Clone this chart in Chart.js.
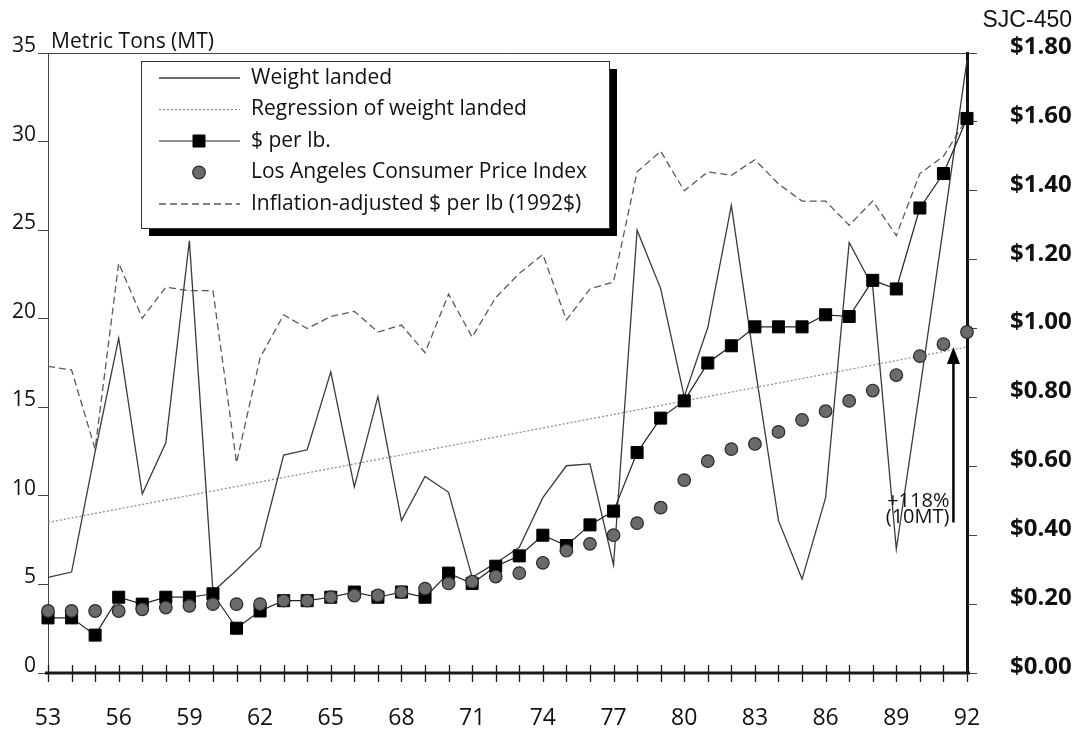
<!DOCTYPE html>
<html><head><meta charset="utf-8">
<script src="https://cdn.jsdelivr.net/npm/chart.js@4.4.1/dist/chart.umd.min.js"></script>
<style>html,body{margin:0;padding:0;background:#fff;}canvas{display:block;}</style>
</head><body>
<canvas id="c" width="1084" height="732"></canvas>
<script>
const years = ['53','54','55','56','57','58','59','60','61','62','63','64','65','66','67','68','69','70','71','72',
               '73','74','75','76','77','78','79','80','81','82','83','84','85','86','87','88','89','90','91','92'];
const weightLanded = [5.4,5.7,12.5,18.9,10.1,13.0,24.4,4.6,5.8,7.1,12.3,12.6,17.0,10.5,15.6,8.6,11.1,10.2,5.4,6.2,
                      7.1,9.9,11.7,11.8,6.1,25.0,21.7,15.6,19.5,26.4,17.3,8.6,5.3,9.9,24.3,21.8,7.0,16.0,25.2,34.6];
const regressionLine = [8.5,null,null,null,null,null,null,null,null,null,null,null,null,null,null,null,null,null,null,null,
                        null,null,null,null,null,null,null,null,null,null,null,null,null,null,null,null,null,null,null,18.4];
const dollarsPerLb = [0.16,0.16,0.11,0.22,0.20,0.22,0.22,0.23,0.13,0.18,0.21,0.21,0.22,0.235,0.22,0.235,0.22,0.29,0.26,0.31,
                      0.34,0.40,0.37,0.43,0.47,0.64,0.74,0.79,0.90,0.95,1.005,1.005,1.005,1.04,1.035,1.14,1.115,1.35,1.45,1.61];
const laCpi = [0.18,0.18,0.18,0.18,0.185,0.19,0.195,0.20,0.20,0.20,0.21,0.21,0.22,0.225,0.225,0.235,0.245,0.26,0.265,0.28,
               0.29,0.32,0.355,0.375,0.40,0.435,0.48,0.56,0.615,0.65,0.665,0.70,0.735,0.76,0.79,0.82,0.865,0.92,0.955,0.99];
const inflationAdjusted = [0.89,0.88,0.65,1.19,1.03,1.12,1.11,1.11,0.61,0.915,1.04,1.00,1.035,1.05,0.99,1.01,0.93,1.10,0.975,1.09,
                           1.16,1.215,1.025,1.115,1.135,1.455,1.515,1.40,1.455,1.445,1.49,1.42,1.37,1.37,1.30,1.37,1.27,1.45,1.50,1.61];
const seriesLabels = ['Weight landed','Regression of weight landed','$ per lb.','Los Angeles Consumer Price Index','Inflation-adjusted $ per lb (1992$)'];
const leftAxisTitle = 'Metric Tons (MT)';
const docId = 'SJC-450';
const annotationLines = ['+118%','(10MT)'];

const FONT = "'Open Sans', 'DejaVu Sans', sans-serif";

const decor = {
  id: 'decor',
  beforeDraw(chart) {
    const c = chart.ctx; c.save(); c.fillStyle = '#fff'; c.fillRect(0,0,chart.width,chart.height); c.restore();
  },
  afterDraw(chart) {
    const ctx = chart.ctx, a = chart.chartArea, xs = chart.scales.x, yL = chart.scales.yL;
    ctx.save();
    // top border
    ctx.strokeStyle = '#444'; ctx.lineWidth = 1;
    ctx.beginPath(); ctx.moveTo(a.left, a.top + 0.5); ctx.lineTo(a.right, a.top + 0.5); ctx.stroke();
    // x axis line
    ctx.strokeStyle = '#1a1a1a'; ctx.lineWidth = 3;
    ctx.beginPath(); ctx.moveTo(a.left - 3, a.bottom); ctx.lineTo(a.right + 3, a.bottom); ctx.stroke();
    // x tick marks (crossing)
    ctx.lineWidth = 1.3;
    for (let i = 0; i < years.length; i++) {
      const px = Math.round(xs.getPixelForValue(i)) + 0.5;
      ctx.beginPath(); ctx.moveTo(px, a.bottom - 8); ctx.lineTo(px, a.bottom + 9); ctx.stroke();
    }
    // titles
    ctx.fillStyle = '#111';
    ctx.font = '21px ' + FONT; ctx.textAlign = 'left'; ctx.textBaseline = 'middle';
    ctx.fillText(leftAxisTitle, a.left + 3, a.top - 11);
    ctx.font = "23px 'Liberation Sans', Arial, sans-serif"; ctx.textAlign = 'right';
    ctx.fillText(docId, 1072, 21);

    // legend
    const box = {l: 141, t: 61, r: 609, b: 228};
    ctx.fillStyle = '#000';
    ctx.fillRect(box.l + 8, box.t + 8, box.r - box.l, box.b - box.t);
    ctx.fillStyle = '#fff';
    ctx.fillRect(box.l, box.t, box.r - box.l, box.b - box.t);
    ctx.strokeStyle = '#333'; ctx.lineWidth = 1;
    ctx.strokeRect(box.l + 0.5, box.t + 0.5, box.r - box.l, box.b - box.t);
    const dsets = chart.data.datasets;
    const order = [0,1,2,3,4];
    order.forEach((k, row) => {
      const ds = dsets[k];
      const y = box.t + 17 + row * 31.5;
      const x0 = 159, x1 = 240, xm = 199;
      ctx.save();
      if (ds.showLine !== false) {
        ctx.strokeStyle = ds.borderColor; ctx.lineWidth = ds.borderWidth;
        ctx.setLineDash(ds.borderDash || []);
        ctx.beginPath(); ctx.moveTo(x0, y); ctx.lineTo(x1, y); ctx.stroke();
        ctx.setLineDash([]);
      }
      if (ds.pointRadius > 0) {
        ctx.fillStyle = ds.pointBackgroundColor; ctx.strokeStyle = ds.pointBorderColor; ctx.lineWidth = ds.pointBorderWidth;
        ctx.beginPath();
        if (ds.pointStyle === 'rect') {
          const s = Math.SQRT1_2 * ds.pointRadius;
          ctx.rect(xm - s, y - s, 2*s, 2*s);
        } else {
          ctx.arc(xm, y, ds.pointRadius, 0, Math.PI*2);
        }
        ctx.fill(); ctx.stroke();
      }
      ctx.restore();
      ctx.fillStyle = '#111'; ctx.font = '21px ' + FONT; ctx.textAlign = 'left'; ctx.textBaseline = 'middle';
      ctx.fillText(ds.label, 251, y);
    });

    // arrow annotation (+118%)
    const ax = xs.getPixelForValue(years.length - 2) + 10;
    const yTop = yL.getPixelForValue(regressionLine[regressionLine.length - 1]);
    const yBot = yL.getPixelForValue(regressionLine[0]);
    ctx.strokeStyle = '#000'; ctx.lineWidth = 2.5;
    ctx.beginPath(); ctx.moveTo(ax, yBot); ctx.lineTo(ax, yTop + 14); ctx.stroke();
    ctx.fillStyle = '#000';
    ctx.beginPath(); ctx.moveTo(ax, yTop); ctx.lineTo(ax - 6.5, yTop + 17); ctx.lineTo(ax + 6.5, yTop + 17); ctx.closePath(); ctx.fill();
    ctx.fillStyle = '#111'; ctx.font = '20px ' + FONT; ctx.textAlign = 'right'; ctx.textBaseline = 'middle';
    ctx.fillText(annotationLines[0], ax - 4, yBot - 21);
    ctx.fillText(annotationLines[1], ax - 4, yBot - 5);
    ctx.restore();
  }
};

new Chart(document.getElementById('c'), {
  type: 'line',
  data: {
    labels: years,
    datasets: [
      { label: seriesLabels[0], data: weightLanded, yAxisID: 'yL', borderColor: '#3a3a3a', borderWidth: 1.3,
        pointRadius: 0, tension: 0, order: 2, clip: false },
      { label: seriesLabels[1], data: regressionLine, yAxisID: 'yL', borderColor: '#8a8a8a', borderWidth: 1.2,
        borderDash: [2, 2], pointRadius: 0, spanGaps: true, order: 4, clip: false },
      { label: seriesLabels[2], data: dollarsPerLb, yAxisID: 'yR', borderColor: '#222', borderWidth: 1.2,
        pointStyle: 'rect', pointRadius: 8.5, pointBackgroundColor: '#000', pointBorderColor: '#000', pointBorderWidth: 1,
        order: 1, clip: false },
      { label: seriesLabels[3], data: laCpi, yAxisID: 'yR', showLine: false, pointStyle: 'circle', pointRadius: 6.3,
        pointBackgroundColor: '#6b6b6b', pointBorderColor: '#2a2a2a', pointBorderWidth: 1.2, borderColor: '#6b6b6b',
        order: 0, clip: false },
      { label: seriesLabels[4], data: inflationAdjusted, yAxisID: 'yR', borderColor: '#5a5a5a', borderWidth: 1.3,
        borderDash: [7, 4], pointRadius: 0, order: 3, clip: false }
    ]
  },
  options: {
    responsive: false, animation: false, devicePixelRatio: 1,
    layout: { padding: { top: 53, left: 0, right: 0, bottom: 0 } },
    plugins: { legend: { display: false }, tooltip: { enabled: false }, title: { display: false } },
    scales: {
      x: {
        type: 'category', offset: false,
        grid: { display: false, drawTicks: false },
        border: { display: false },
        ticks: { autoSkip: false, maxRotation: 0, minRotation: 0, padding: 32, color: '#111',
                 font: { family: FONT, size: 23 },
                 callback: function (v, i) { return i % 3 === 0 ? this.getLabelForValue(v) : ''; } },
        afterFit(s) { s.height = 59; }
      },
      yL: {
        position: 'left', min: 0, max: 35,
        grid: { drawOnChartArea: false, tickLength: 10, color: '#444', lineWidth: 1 },
        border: { display: true, color: '#444', width: 1 },
        ticks: { stepSize: 5, padding: 2, labelOffset: -7, color: '#111', font: { family: FONT, size: 21 } },
        afterFit(s) { s.width = 48; }
      },
      yR: {
        position: 'right', min: 0, max: 1.8,
        grid: { drawOnChartArea: false, tickLength: 10, color: '#444', lineWidth: 1 },
        border: { display: true, color: '#111', width: 3 },
        ticks: { stepSize: 0.2, padding: 33, labelOffset: -6, color: '#111',
                 font: { family: FONT, size: 24, weight: 'bold' },
                 callback: v => '$' + Number(v).toFixed(2) },
        afterFit(s) { s.width = 117; }
      }
    }
  },
  plugins: [decor]
});
</script>
</body></html>
